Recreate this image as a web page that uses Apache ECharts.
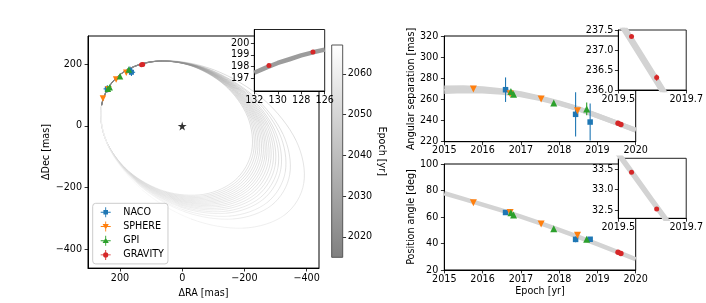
<!DOCTYPE html>
<html><head><meta charset="utf-8">
<script src="https://cdn.jsdelivr.net/npm/echarts@6/dist/echarts.min.js"></script>
<style>html,body{margin:0;padding:0;background:#fff}#c{width:706px;height:303px}</style>
</head><body><div id="c"></div>
<script>
// ---------------- DATA ----------------
const instruments = ['NACO', 'SPHERE', 'GPI', 'GRAVITY'];

const nacoEpoch = [2016.60, 2018.43, 2018.81];
const nacoSep = [269.2, 245.9, 238.6];
const nacoSepErr = [11.6, 21.0, 17.5];
const nacoPA = [63.4, 43.1, 43.2];
const nacoPAErr = [1.2, 2.2, 1.5];
const nacoRA = [240.9, 168.3, 163.3];
const nacoDec = [120.1, 179.3, 173.9];
const nacoRAErr = [12, 13, 12];
const nacoDecErr = [12, 13, 12];

const sphereEpoch = [2015.76, 2016.72, 2017.53, 2018.48];
const sphereSep = [269.9, 265.3, 260.4, 249.3];
const sphereSepErr = [1.2, 1.2, 1.2, 1.5];
const spherePA = [70.8, 63.4, 54.7, 46.2];
const spherePAErr = [0.3, 0.3, 0.3, 0.3];
const sphereRA = [254.9, 237.2, 212.5, 179.9];
const sphereDec = [88.8, 119.0, 150.5, 172.5];
const sphereRAErr = [1.5, 1.5, 1.5, 1.5];
const sphereDecErr = [1.5, 1.5, 1.5, 1.5];

const gpiEpoch = [2016.74, 2016.81, 2017.86, 2018.72];
const gpiSep = [267.5, 264.8, 256.6, 251.0];
const gpiSepErr = [1.5, 1.5, 1.5, 6.0];
const gpiPA = [63.2, 61.6, 51.2, 43.2];
const gpiPAErr = [0.3, 0.3, 0.3, 0.6];
const gpiRA = [239.0, 233.2, 200.0, 171.8];
const gpiDec = [120.2, 125.5, 160.8, 183.0];
const gpiRAErr = [1.5, 1.5, 1.5, 4];
const gpiDecErr = [1.5, 1.5, 1.5, 4];

const gravityEpoch = [2019.539, 2019.613];
const gravitySep = [237.34, 236.31];
const gravitySepErr = [0.03, 0.08];
const gravityPA = [33.43, 32.53];
const gravityPAErr = [0.02, 0.02];
const gravityRA = [130.75, 127.0];
const gravityDec = [198.08, 199.25];
const gravityRAErr = [0.05, 0.05];
const gravityDecErr = [0.06, 0.08];

const starPos = [0, 0];

// model tracks for separation / position angle panels
const modelYears = [2015, 2015.5, 2016, 2016.5, 2017, 2017.5, 2018, 2018.5, 2019, 2019.5, 2019.55, 2019.6, 2019.65, 2019.7, 2020];
const sepModelUpper = [270.8, 271.0, 270.1, 268.3, 265.4, 261.5, 256.7, 251.3, 244.6, 237.82, 237.14, 236.46, 235.77, 235.08, 231.0];
const sepModelLower = [267.6, 268.2, 268.0, 266.8, 264.4, 260.9, 256.3, 251.0, 244.4, 237.72, 237.04, 236.36, 235.67, 234.98, 230.8];
const paModel = [77.9, 73.7, 69.4, 65.0, 60.3, 55.4, 50.3, 45.0, 39.5, 33.88, 33.31, 32.73, 32.16, 31.58, 28.1];

// model track inside the orbit inset
const insetTrackRA = [132, 131, 130, 129, 128, 127, 126];
const insetTrackDec = [197.45, 197.9, 198.3, 198.62, 198.95, 199.22, 199.45];

// orbit tracks (control points, mas) and epoch of each segment
const orbitRA = [
  [259.3, 207.5, 104.9, -20.9, -136.5, -210.5, -223.3, -171.5, -68.9, 56.9, 172.5, 246.5],
  [259.3, 207.2, 103.5, -23.8, -140.9, -216.0, -229.2, -177.0, -73.4, 53.9, 171.0, 246.1],
  [259.3, 206.8, 102.0, -26.7, -145.2, -221.4, -235.1, -182.5, -77.8, 50.9, 169.5, 245.6],
  [259.3, 206.4, 100.6, -29.6, -149.6, -226.9, -241.0, -188.0, -82.3, 48.0, 168.0, 245.2],
  [259.3, 206.0, 99.2, -32.5, -154.0, -232.3, -246.8, -193.5, -86.7, 45.0, 166.4, 244.8],
  [259.3, 205.7, 97.8, -35.4, -158.4, -237.8, -252.7, -199.0, -91.2, 42.0, 164.9, 244.4],
  [259.3, 205.3, 96.3, -38.3, -162.7, -243.2, -258.6, -204.5, -95.6, 39.0, 163.4, 243.9],
  [259.3, 204.9, 94.9, -41.2, -167.1, -248.7, -264.5, -210.0, -100.1, 36.0, 161.9, 243.5],
  [259.3, 204.5, 93.4, -44.1, -171.4, -254.1, -270.3, -215.5, -104.5, 33.0, 160.4, 243.1],
  [259.3, 204.1, 91.8, -47.4, -176.4, -260.4, -277.0, -221.8, -109.6, 29.6, 158.7, 242.6],
  [259.3, 203.6, 90.1, -50.7, -181.4, -266.6, -283.7, -228.1, -114.6, 26.2, 156.9, 242.1],
  [259.3, 203.2, 88.3, -54.4, -187.0, -273.6, -291.3, -235.2, -120.4, 22.4, 155.0, 241.6],
  [259.3, 202.7, 86.4, -58.1, -192.6, -280.6, -298.9, -242.3, -126.1, 18.5, 153.0, 241.0],
  [259.3, 202.1, 84.2, -62.7, -199.5, -289.2, -308.1, -251.0, -133.1, 13.8, 150.7, 240.4],
  [259.2, 201.5, 81.9, -67.2, -206.3, -297.7, -317.3, -259.6, -140.0, 9.1, 148.3, 239.7],
  [259.2, 200.6, 78.5, -74.3, -216.9, -311.0, -331.6, -273.0, -150.8, 1.9, 144.6, 238.7],
  [259.2, 199.7, 75.0, -81.3, -227.5, -324.2, -345.9, -286.3, -161.6, -5.4, 140.9, 237.6],
  [259.2, 196.8, 63.9, -103.6, -261.2, -366.3, -391.2, -328.8, -195.9, -28.4, 129.2, 234.3]
];
const orbitDec = [
  [68.4, 160.4, 207.5, 197.3, 132.1, 29.7, -82.4, -174.4, -221.5, -211.3, -146.1, -43.7],
  [68.3, 160.7, 207.6, 196.8, 130.5, 27.0, -86.0, -178.4, -225.4, -214.5, -148.2, -44.7],
  [68.1, 161.0, 207.7, 196.2, 128.9, 24.3, -89.6, -182.4, -229.2, -217.6, -150.3, -45.7],
  [68.0, 161.3, 207.9, 195.6, 127.3, 21.6, -93.2, -186.4, -233.0, -220.8, -152.5, -46.7],
  [67.9, 161.5, 208.0, 195.0, 125.7, 18.9, -96.7, -190.4, -236.8, -223.9, -154.6, -47.7],
  [67.8, 161.8, 208.1, 194.5, 124.1, 16.2, -100.3, -194.4, -240.7, -227.1, -156.7, -48.8],
  [67.6, 162.1, 208.2, 193.9, 122.5, 13.5, -103.9, -198.4, -244.5, -230.2, -158.8, -49.8],
  [67.5, 162.4, 208.4, 193.4, 120.9, 10.8, -107.5, -202.4, -248.4, -233.3, -160.9, -50.8],
  [67.3, 162.7, 208.5, 192.8, 119.3, 8.1, -111.0, -206.4, -252.2, -236.4, -163.0, -51.8],
  [67.2, 163.1, 208.7, 192.2, 117.5, 5.0, -115.1, -211.0, -256.6, -240.0, -165.4, -53.0],
  [67.0, 163.4, 208.8, 191.5, 115.7, 1.9, -119.2, -215.5, -260.9, -243.6, -167.8, -54.1],
  [66.9, 163.8, 209.0, 190.8, 113.7, -1.6, -123.8, -220.7, -265.9, -247.7, -170.6, -55.4],
  [66.7, 164.1, 209.1, 190.0, 111.6, -5.0, -128.4, -225.8, -270.8, -251.7, -173.3, -56.7],
  [66.5, 164.6, 209.3, 189.1, 109.1, -9.3, -134.0, -232.1, -276.8, -256.7, -176.6, -58.3],
  [66.3, 165.0, 209.5, 188.2, 106.6, -13.5, -139.6, -238.4, -282.8, -261.6, -179.9, -59.9],
  [66.0, 165.7, 209.8, 186.9, 102.7, -20.1, -148.3, -248.1, -292.1, -269.3, -185.1, -62.4],
  [65.6, 166.4, 210.1, 185.5, 98.8, -26.6, -157.0, -257.8, -301.4, -276.9, -190.2, -64.8],
  [64.6, 168.6, 211.0, 181.1, 86.5, -47.4, -184.6, -288.6, -331.0, -301.1, -206.5, -72.6]
];
const orbitEpoch = [
  [2016.0, 2018.0, 2020.1, 2022.6, 2025.7, 2029.1, 2033.0, 2037.0, 2040.9, 2044.4, 2047.4, 2049.9],
  [2016.0, 2018.1, 2020.2, 2022.8, 2025.9, 2029.4, 2033.3, 2037.4, 2041.3, 2044.9, 2047.9, 2050.5],
  [2016.0, 2018.1, 2020.3, 2022.9, 2026.0, 2029.6, 2033.6, 2037.7, 2041.7, 2045.3, 2048.4, 2051.0],
  [2016.1, 2018.2, 2020.4, 2023.0, 2026.2, 2029.8, 2033.9, 2038.0, 2042.1, 2045.8, 2048.9, 2051.5],
  [2016.1, 2018.2, 2020.5, 2023.1, 2026.3, 2030.0, 2034.1, 2038.3, 2042.5, 2046.2, 2049.3, 2052.0],
  [2016.1, 2018.3, 2020.6, 2023.3, 2026.5, 2030.3, 2034.4, 2038.7, 2042.9, 2046.7, 2049.9, 2052.6],
  [2016.1, 2018.3, 2020.6, 2023.4, 2026.7, 2030.5, 2034.7, 2039.1, 2043.3, 2047.2, 2050.4, 2053.2],
  [2016.1, 2018.4, 2020.7, 2023.5, 2026.9, 2030.7, 2035.0, 2039.5, 2043.7, 2047.7, 2050.9, 2053.7],
  [2016.1, 2018.4, 2020.8, 2023.6, 2027.0, 2030.9, 2035.3, 2039.8, 2044.1, 2048.1, 2051.4, 2054.2],
  [2016.2, 2018.5, 2020.9, 2023.8, 2027.2, 2031.2, 2035.6, 2040.2, 2044.6, 2048.6, 2052.0, 2054.9],
  [2016.2, 2018.5, 2021.0, 2023.9, 2027.4, 2031.4, 2035.9, 2040.5, 2045.1, 2049.1, 2052.6, 2055.5],
  [2016.2, 2018.6, 2021.1, 2024.1, 2027.6, 2031.7, 2036.3, 2041.0, 2045.6, 2049.7, 2053.2, 2056.2],
  [2016.2, 2018.6, 2021.2, 2024.2, 2027.8, 2032.0, 2036.6, 2041.4, 2046.1, 2050.3, 2053.8, 2056.9],
  [2016.3, 2018.7, 2021.3, 2024.4, 2028.1, 2032.4, 2037.1, 2042.0, 2046.8, 2051.0, 2054.7, 2057.8],
  [2016.3, 2018.7, 2021.4, 2024.5, 2028.3, 2032.7, 2037.5, 2042.5, 2047.4, 2051.7, 2055.5, 2058.6],
  [2016.3, 2018.9, 2021.6, 2024.8, 2028.7, 2033.2, 2038.2, 2043.3, 2048.4, 2052.8, 2056.7, 2059.9],
  [2016.3, 2019.0, 2021.8, 2025.1, 2029.1, 2033.7, 2038.8, 2044.1, 2049.3, 2053.9, 2057.9, 2061.2],
  [2016.5, 2019.3, 2022.4, 2026.0, 2030.4, 2035.4, 2041.0, 2046.8, 2052.4, 2057.4, 2061.8, 2065.4]
];

// colour bar range and ticks
const cbMin = 2015.0, cbMax = 2067.1;
const cbTicks = [2020, 2030, 2040, 2050, 2060];
const orbitRATicks = [-400, -200, 0, 200];
const orbitDecTicks = [-400, -200, 0, 200];
const insetDecTicks = [197, 198, 199, 200];
const insetEpochTicks = [2019.5, 2019.7];
const paInsetTicks = [32.5, 33.0, 33.5];

// ---------------- STYLE ----------------
const FONT = 'DejaVu Sans';
const FS = 9.6;
const C = {NACO: '#1f77b4', SPHERE: '#ff7f0e', GPI: '#2ca02c', GRAVITY: '#d62728'};
const STAR = 'path://M50,0 L61,35 L98,35 L68,57 L79,91 L50,70 L21,91 L32,57 L2,35 L39,35 Z';
const CROSS = 'M0,4.55H10V5.45H0Z M4.55,0H5.45V10H4.55Z ';
const legendIcons = [
  'path://' + CROSS + 'M2.7,2.7H7.3V7.3H2.7Z',
  'path://' + CROSS + 'M1.9,2.6H8.1L5,7.9Z',
  'path://' + CROSS + 'M5,2.1L8.1,7.4H1.9Z',
  'path://' + CROSS + 'M2.4,5A2.6,2.6 0 1 1 7.6,5A2.6,2.6 0 1 1 2.4,5Z'
];
const fmt = v => (v < 0 ? '\u2212' + (-v) : String(v));
const fmt1 = v => (+v).toFixed(1);

function vAxis(o) {
  const a = {
    type: 'value', gridIndex: o.g, min: o.min, max: o.max, inverse: !!o.inverse,
    z: o.z || 0,
    axisLine: {show: o.line !== false, onZero: false, lineStyle: {color: '#000', width: 1}},
    axisTick: {show: true, length: 3.4, lineStyle: {color: '#000', width: 0.8}},
    axisLabel: {color: '#000', fontFamily: FONT, fontSize: FS, margin: o.margin || 4,
      formatter: o.fmt || fmt, showMinLabel: true, showMaxLabel: true},
    splitLine: {show: false},
    name: o.name || '', nameLocation: 'middle', nameGap: o.gap || 20,
    nameTextStyle: {color: '#000', fontFamily: FONT, fontSize: FS}
  };
  if (o.pos) a.position = o.pos;
  if (o.nameRotate !== undefined) a.nameRotate = o.nameRotate;
  if (o.interval !== undefined) a.interval = o.interval;
  if (o.ticks) { a.axisTick.customValues = o.ticks; a.axisLabel.customValues = o.ticks; }
  return a;
}

const xAxes = [
  vAxis({g: 0, min: -440, max: 303, inverse: true, ticks: orbitRATicks, name: '\u0394RA [mas]', gap: 14, margin: 5}),
  vAxis({g: 1, min: 126, max: 132, inverse: true, interval: 2, z: 11, margin: 4}),
  {type: 'value', gridIndex: 2, min: 0, max: 1, show: false},
  vAxis({g: 3, min: 2015, max: 2020, interval: 1, margin: 4}),
  vAxis({g: 4, min: 2019.5, max: 2019.7, ticks: insetEpochTicks, fmt: fmt1, z: 11, margin: 4}),
  vAxis({g: 5, min: 2015, max: 2020, interval: 1, margin: 4, name: 'Epoch [yr]', gap: 16}),
  vAxis({g: 6, min: 2019.5, max: 2019.7, ticks: insetEpochTicks, fmt: fmt1, z: 11, margin: 4})
];
const yAxes = [
  vAxis({g: 0, min: -460.3, max: 291.3, ticks: orbitDecTicks, name: '\u0394Dec [mas]', gap: 34, margin: 6}),
  vAxis({g: 1, min: 195.88, max: 201.19, ticks: insetDecTicks, z: 11, margin: 5}),
  vAxis({g: 2, min: cbMin, max: cbMax, ticks: cbTicks, pos: 'right', line: false, name: 'Epoch [yr]', nameRotate: -90, gap: 32, margin: 5}),
  vAxis({g: 3, min: 220, max: 320, interval: 20, name: 'Angular separation [mas]', gap: 27, margin: 6}),
  vAxis({g: 4, min: 236, max: 237.5, interval: 0.5, fmt: fmt1, z: 11, margin: 5}),
  vAxis({g: 5, min: 20, max: 100, interval: 20, name: 'Position angle [deg]', gap: 27, margin: 6}),
  vAxis({g: 6, min: 32.3, max: 33.77, ticks: paInsetTicks, fmt: fmt1, z: 11, margin: 5})
];

const box = {show: true, borderColor: '#000', borderWidth: 1, backgroundColor: 'transparent'};
const inBox = {show: true, borderColor: '#222', borderWidth: 1, backgroundColor: '#fff', z: 10};
const grids = [
  Object.assign({left: 88, top: 36, width: 231, height: 233}, box),
  Object.assign({left: 254.3, top: 29.5, width: 70.4, height: 61.5}, inBox),
  {left: 331.7, top: 45, width: 11, height: 212.3, show: true, borderColor: '#555', borderWidth: 1, backgroundColor: 'transparent', z: 5},
  Object.assign({left: 444.3, top: 36, width: 191.4, height: 105.7}, box),
  Object.assign({left: 618.3, top: 30, width: 70, height: 60}, inBox),
  Object.assign({left: 444.3, top: 164, width: 191.4, height: 106}, box),
  Object.assign({left: 618.3, top: 158.3, width: 70, height: 60}, inBox)
];

// ---------------- SERIES ----------------
const series = [];

// orbits (series 0; coloured by epoch via visualMap)
const orbitData = [];
orbitRA.forEach((ras, k) => ras.forEach((r, i) => orbitData.push([r, orbitDec[k][i], orbitEpoch[k][i], k, i])));
series.push({
  type: 'custom', xAxisIndex: 0, yAxisIndex: 0, z: 1, silent: true,
  dimensions: ['ra', 'dec', 'epoch', 'orbit', 'seg'], encode: {x: 0, y: 1},
  data: orbitData,
  renderItem: function (params, api) {
    const k = api.value(3), i = api.value(4);
    const ra = orbitRA[k], de = orbitDec[k], n = ra.length;
    const p = j => api.coord([ra[(j + n) % n], de[(j + n) % n]]);
    const p0 = p(i - 1), p1 = p(i), p2 = p(i + 1), p3 = p(i + 2);
    return {
      type: 'bezierCurve',
      shape: {
        x1: p1[0], y1: p1[1], x2: p2[0], y2: p2[1],
        cpx1: p1[0] + (p2[0] - p0[0]) / 6, cpy1: p1[1] + (p2[1] - p0[1]) / 6,
        cpx2: p2[0] - (p3[0] - p1[0]) / 6, cpy2: p2[1] - (p3[1] - p1[1]) / 6
      },
      style: {stroke: api.visual('color'), fill: 'none', lineWidth: 0.7, opacity: 0.5}
    };
  }
});

// star
series.push({type: 'scatter', xAxisIndex: 0, yAxisIndex: 0, z: 3, silent: true,
  data: [starPos], symbol: STAR, symbolSize: 9, itemStyle: {color: '#000'}});

// colour bar
series.push({
  type: 'custom', xAxisIndex: 2, yAxisIndex: 2, z: 2, silent: true,
  data: [[0, cbMin, 1, cbMax]], encode: {x: [0, 2], y: [1, 3]},
  renderItem: function (params, api) {
    const a = api.coord([api.value(0), api.value(3)]);
    const b = api.coord([api.value(2), api.value(1)]);
    return {type: 'rect', shape: {x: a[0], y: a[1], width: b[0] - a[0], height: b[1] - a[1]},
      style: {fill: {type: 'linear', x: 0, y: 0, x2: 0, y2: 1,
        colorStops: [{offset: 0, color: '#ffffff'}, {offset: 1, color: '#808080'}]}}};
  }
});

const zip = (a, b) => a.map((v, i) => [v, b[i]]);
function band(g, ys, w, z) {
  return {type: 'line', xAxisIndex: g, yAxisIndex: g, z: z, silent: true, smooth: false,
    symbol: 'none', data: zip(modelYears, ys),
    lineStyle: {color: '#d3d3d3', width: w, cap: 'butt', join: 'round'}};
}
series.push(band(3, sepModelUpper, 5, 1), band(3, sepModelLower, 5, 1));
series.push(band(4, sepModelUpper, 4.5, 12), band(4, sepModelLower, 4.5, 12));
series.push(band(5, paModel, 4.5, 1), band(6, paModel, 5.5, 12));
series.push({type: 'line', xAxisIndex: 1, yAxisIndex: 1, z: 12, silent: true, smooth: false,
  symbol: 'none', data: zip(insetTrackRA, insetTrackDec), lineStyle: {color: '#9c9c9c', width: 4.5, join: 'round'}});

function errSeries(name, xs, ys, xe, ye, g, z) {
  const color = C[name];
  return {
    type: 'custom', name: name, xAxisIndex: g, yAxisIndex: g, z: z, silent: true,
    itemStyle: {color: color}, encode: {x: 0, y: 1},
    data: xs.map((x, i) => [x, ys[i], xe ? xe[i] : 0, ye ? ye[i] : 0]),
    renderItem: function (params, api) {
      const x = api.value(0), y = api.value(1), dx = api.value(2), dy = api.value(3);
      const ch = [];
      if (dy) {
        const a = api.coord([x, y - dy]), b = api.coord([x, y + dy]);
        ch.push({type: 'line', shape: {x1: a[0], y1: a[1], x2: b[0], y2: b[1]}, style: {stroke: color, lineWidth: 1.1}});
      }
      if (dx) {
        const a = api.coord([x - dx, y]), b = api.coord([x + dx, y]);
        ch.push({type: 'line', shape: {x1: a[0], y1: a[1], x2: b[0], y2: b[1]}, style: {stroke: color, lineWidth: 1.1}});
      }
      return {type: 'group', children: ch};
    }
  };
}
function ptSeries(name, sym, rot, size, xs, ys, g, z) {
  return {type: 'scatter', name: name, xAxisIndex: g, yAxisIndex: g, z: z, silent: true,
    symbol: sym, symbolRotate: rot, symbolSize: size,
    itemStyle: {color: C[name], opacity: 1}, data: zip(xs, ys)};
}

const inst = [
  {n: 'NACO', s: 'rect', r: 0, sz: 5, ep: nacoEpoch, sep: nacoSep, sepE: nacoSepErr, pa: nacoPA, paE: nacoPAErr, ra: nacoRA, dec: nacoDec, raE: nacoRAErr, decE: nacoDecErr},
  {n: 'SPHERE', s: 'triangle', r: 180, sz: 6.5, ep: sphereEpoch, sep: sphereSep, sepE: sphereSepErr, pa: spherePA, paE: spherePAErr, ra: sphereRA, dec: sphereDec, raE: sphereRAErr, decE: sphereDecErr},
  {n: 'GPI', s: 'triangle', r: 0, sz: 6.5, ep: gpiEpoch, sep: gpiSep, sepE: gpiSepErr, pa: gpiPA, paE: gpiPAErr, ra: gpiRA, dec: gpiDec, raE: gpiRAErr, decE: gpiDecErr},
  {n: 'GRAVITY', s: 'circle', r: 0, sz: 5, ep: gravityEpoch, sep: gravitySep, sepE: gravitySepErr, pa: gravityPA, paE: gravityPAErr, ra: gravityRA, dec: gravityDec, raE: gravityRAErr, decE: gravityDecErr}
];
inst.forEach(d => {
  series.push(ptSeries(d.n, d.s, d.r, d.sz, d.ra, d.dec, 0, 4));
  series.push(errSeries(d.n, d.ra, d.dec, d.raE, d.decE, 0, 4));
  series.push(errSeries(d.n, d.ep, d.sep, null, d.sepE, 3, 3));
  series.push(ptSeries(d.n, d.s, d.r, d.sz + 0.5, d.ep, d.sep, 3, 4));
  series.push(errSeries(d.n, d.ep, d.pa, null, d.paE, 5, 3));
  series.push(ptSeries(d.n, d.s, d.r, d.sz + 0.5, d.ep, d.pa, 5, 4));
  if (d.n === 'GRAVITY') {
    series.push(ptSeries(d.n, d.s, d.r, 5, d.ra, d.dec, 1, 14));
    series.push(errSeries(d.n, d.ep, d.sep, null, d.sepE, 4, 13));
    series.push(ptSeries(d.n, d.s, d.r, 5, d.ep, d.sep, 4, 14));
    series.push(errSeries(d.n, d.ep, d.pa, null, d.paE, 6, 13));
    series.push(ptSeries(d.n, d.s, d.r, 5, d.ep, d.pa, 6, 14));
  }
});

const chart = echarts.init(document.getElementById('c'), null, {renderer: 'canvas'});
chart.setOption({
  animation: false,
  backgroundColor: '#fff',
  grid: grids,
  xAxis: xAxes,
  yAxis: yAxes,
  visualMap: [{type: 'continuous', show: false, min: cbMin, max: cbMax, dimension: 2, seriesIndex: 0,
    inRange: {color: ['#808080', '#ffffff']}}],
  legend: {
    data: instruments.map((n, i) => ({name: n, icon: legendIcons[i]})),
    orient: 'vertical', left: 92.7, top: 203.3, padding: [4, 4, 4, 8],
    itemWidth: 11, itemHeight: 10, itemGap: 4.2, selectedMode: false,
    backgroundColor: 'rgba(255,255,255,0.8)', borderColor: '#ccc', borderWidth: 1, borderRadius: 3,
    textStyle: {fontFamily: FONT, fontSize: FS, color: '#000', lineHeight: 10, padding: [0, 0, 0, 7]}
  },
  series: series
});
</script>
</body></html>
